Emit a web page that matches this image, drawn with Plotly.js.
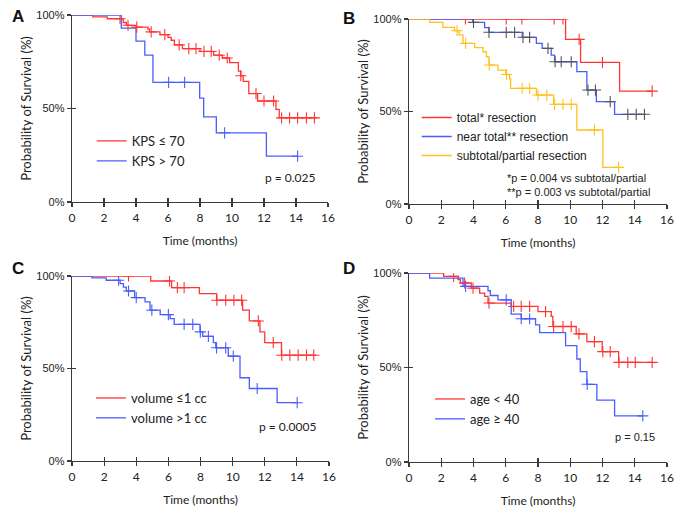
<!DOCTYPE html>
<html>
<head>
<meta charset="utf-8">
<script src="https://cdn.plot.ly/plotly-3.0.1.min.js"></script>
<style>html,body{margin:0;padding:0;background:#fff;}#chart{width:685px;height:516px;}</style>
</head>
<body>
<div id="chart"></div>
<script>
// ---------- DATA ----------
// Panel A: KPS
const aRedT = [0, 1.3, 2.2, 3.2, 3.4, 4.0, 4.75, 4.85, 5.5, 6.0, 6.2, 6.4, 6.9, 8.0, 8.85, 9.4, 9.85, 10.4, 10.55, 10.7, 11.05, 11.6, 12.75, 12.95];
const aRedS = [100, 99, 98, 96, 94.5, 93.5, 92.5, 91, 89.5, 88, 86.5, 84, 82, 80.5, 78.5, 77, 74.5, 70, 67.5, 64.5, 58, 54, 49.5, 45];
const aRedEnd = 15.3;
const aRedCens = [3.0, 3.5, 4.05, 4.95, 5.8, 6.7, 7.3, 7.75, 8.25, 8.7, 9.2, 9.7, 10.55, 11.5, 12.0, 12.6, 13.1, 13.6, 14.1, 14.65, 15.15];
const aBlueT = [0, 3.08, 4.0, 4.55, 5.06, 7.98, 8.23, 9.02, 12.15];
const aBlueS = [100, 93, 86, 78.5, 64, 55.5, 45.5, 37, 24.5];
const aBlueEnd = 14.1;
const aBlueCens = [6.04, 7.04, 9.54, 14.1];

// Panel B: resection
const bRedT = [0, 9.71, 10.64, 13.06];
const bRedS = [100, 89, 76.5, 61];
const bRedEnd = 15.1;
const bRedCens = [3.5, 6.03, 7.0, 9.0, 9.55, 10.55, 12.0, 15.08];
const bBlueT = [0, 3.95, 4.69, 4.96, 7.02, 7.9, 8.26, 8.82, 9.03, 10.41, 11.03, 11.62, 12.75];
const bBlueS = [100, 98.2, 95.3, 92.8, 90.1, 86.8, 84.1, 80.5, 76.9, 71.5, 61.6, 55.3, 48.5];
const bBlueEnd = 14.67;
const bBlueCens = [4.0, 4.96, 6.03, 6.55, 7.07, 7.48, 8.62, 9.06, 9.44, 10.06, 11.1, 11.56, 12.48, 13.57, 14.09, 14.6];
const bYelT = [0, 1.28, 2.1, 2.83, 3.1, 3.35, 4.07, 4.59, 4.8, 4.96, 5.52, 6.0, 6.24, 6.3, 7.9, 8.97, 10.41, 12.02];
const bYelS = [100, 98.2, 95.5, 93.7, 91.4, 86.8, 84.5, 82.3, 79.6, 75.1, 72.4, 70, 67.6, 62.5, 58.9, 53.9, 40, 19.8];
const bYelEnd = 13.0;
const bYelCens = [2.98, 3.51, 4.98, 6.05, 7.02, 7.48, 8.0, 8.55, 9.03, 9.55, 10.06, 11.5, 13.0];

// Panel C: volume
const cRedT = [0, 4.9, 6.2, 7.93, 9.0, 10.62, 11.04, 11.7, 12.0, 13.04];
const cRedS = [100, 97.3, 93.7, 90.5, 86.9, 81.5, 75.7, 69.8, 64, 57.2];
const cRedEnd = 15.2;
const cRedCens = [3.52, 6.07, 6.56, 6.98, 9.02, 9.57, 10.08, 10.56, 11.6, 12.53, 13.06, 13.56, 14.08, 14.6, 15.05];
const cBlueT = [0, 1.24, 2.13, 3.0, 3.2, 3.38, 3.9, 4.55, 4.86, 5.49, 6.11, 6.36, 7.97, 8.14, 8.8, 8.95, 9.73, 10.46, 11.04, 12.77];
const cBlueS = [100, 99, 97.7, 95.9, 94, 91.9, 88.3, 86, 81.5, 79.1, 77, 73.9, 69.8, 67.4, 64, 61.2, 56.7, 45, 39.2, 31.5];
const cBlueEnd = 14.02;
const cBlueCens = [2.9, 3.52, 4.0, 4.97, 6.0, 6.98, 7.52, 7.99, 8.49, 9.0, 9.57, 10.04, 11.53, 14.02];

// Panel D: age
const dRedT = [0, 2.15, 3.04, 3.18, 3.86, 4.38, 4.69, 4.9, 6.34, 8.0, 8.82, 8.92, 10.37, 11.03, 11.98, 13.0];
const dRedS = [100, 98.2, 96.5, 94.7, 92, 89.4, 87.6, 84.1, 82.3, 79.6, 77, 71.7, 67.8, 63.7, 58.4, 52.7];
const dRedEnd = 15.1;
const dRedCens = [2.77, 3.45, 3.97, 4.96, 6.49, 6.96, 7.48, 8.47, 8.97, 9.55, 10.06, 10.54, 11.5, 12.02, 12.48, 13.02, 13.57, 14.03, 15.08];
const dBlueT = [0, 1.28, 3.35, 4.9, 5.04, 5.52, 6.34, 6.96, 7.85, 8.1, 9.71, 10.41, 10.62, 11.03, 11.65, 12.75];
const dBlueS = [100, 97.3, 92.9, 90.6, 88.1, 85.8, 78.2, 75.8, 72.6, 68.5, 61.6, 54.5, 47.8, 41.1, 32.7, 24.4];
const dBlueEnd = 14.5;
const dBlueCens = [3.51, 6.03, 6.96, 7.48, 11.05, 14.5];

const xTicks = [0, 2, 4, 6, 8, 10, 12, 14, 16];
const yTicks = [0, 50, 100];
const yTickText = ['0%', '50%', '100%'];

// ---------- STYLE ----------
const RED = '#ff3535';
const BLUE = '#4a5cff';
const YEL = '#ffc020';
const AXC = '#3a3a3a';
const CAL = 'Lato, "Open Sans", sans-serif';
const ARI = '"Liberation Sans", Arial, sans-serif';
const W = 685, H = 516;
const px = x => x / W;
const py = y => (H - y) / H;

function stepVal(t, s, x) {
  let v = s[0];
  for (let i = 0; i < t.length; i++) { if (t[i] <= x) v = s[i]; }
  return v;
}
function curve(t, s, end, name, color, ax, legend) {
  return {
    x: t.concat([end]), y: s.concat([s[s.length - 1]]),
    type: 'scatter', mode: 'lines', line: {shape: 'hv', color: color, width: 1.3},
    name: name, xaxis: ax[0], yaxis: ax[1], legend: legend, hoverinfo: 'skip'
  };
}
function cens(t, s, c, color, ax) {
  return {
    x: c, y: c.map(v => stepVal(t, s, v)),
    type: 'scatter', mode: 'markers',
    marker: {symbol: 'cross-thin', size: 8, line: {color: color, width: 1.1}, color: color},
    showlegend: false, xaxis: ax[0], yaxis: ax[1], hoverinfo: 'skip'
  };
}

const A = ['x', 'y'], B = ['x2', 'y2'], C = ['x3', 'y3'], D = ['x4', 'y4'];
const data = [
  curve(aRedT, aRedS, aRedEnd, 'KPS ≤ 70', RED, A, 'legend'),
  curve(aBlueT, aBlueS, aBlueEnd, 'KPS > 70', BLUE, A, 'legend'),
  cens(aRedT, aRedS, aRedCens, RED, A),
  cens(aBlueT, aBlueS, aBlueCens, BLUE, A),

  curve(bRedT, bRedS, bRedEnd, 'total* resection', RED, B, 'legend2'),
  curve(bBlueT, bBlueS, bBlueEnd, 'near total** resection', BLUE, B, 'legend2'),
  curve(bYelT, bYelS, bYelEnd, 'subtotal/partial resection', YEL, B, 'legend2'),
  cens(bRedT, bRedS, bRedCens, RED, B),
  cens(bBlueT, bBlueS, bBlueCens, '#555555', B),
  cens(bYelT, bYelS, bYelCens, YEL, B),

  curve(cRedT, cRedS, cRedEnd, 'volume ≤1 cc', RED, C, 'legend3'),
  curve(cBlueT, cBlueS, cBlueEnd, 'volume >1 cc', BLUE, C, 'legend3'),
  cens(cRedT, cRedS, cRedCens, RED, C),
  cens(cBlueT, cBlueS, cBlueCens, BLUE, C),

  curve(dRedT, dRedS, dRedEnd, 'age < 40', RED, D, 'legend4'),
  curve(dBlueT, dBlueS, dBlueEnd, 'age ≥ 40', BLUE, D, 'legend4'),
  cens(dRedT, dRedS, dRedCens, RED, D),
  cens(dBlueT, dBlueS, dBlueCens, BLUE, D)
];
// empty traces so the inside-tick overlay axes (crossing ticks) are drawn
for (let k = 5; k <= 8; k++) {
  data.push({x: [], y: [], type: 'scatter', mode: 'lines', showlegend: false, xaxis: 'x' + k, yaxis: 'y' + k, hoverinfo: 'skip'});
}

function xax(domain, anchor) {
  return {
    domain: domain, anchor: anchor, range: [0, 16], tickvals: xTicks, ticktext: xTicks.map(String),
    showline: true, linecolor: AXC, linewidth: 1.3, ticks: 'outside', ticklen: 4, tickcolor: AXC, tickwidth: 1.2,
    showgrid: false, zeroline: false, tickfont: {family: CAL, size: 12, color: '#222'},
    title: {text: 'Time (months)', font: {family: CAL, size: 12, color: '#222'}, standoff: 13},
    fixedrange: true
  };
}
function yax(domain, anchor) {
  return {
    domain: domain, anchor: anchor, range: [0, 100], tickvals: yTicks, ticktext: yTickText,
    showline: true, linecolor: AXC, linewidth: 1.3, ticks: 'outside', ticklen: 4, tickcolor: AXC, tickwidth: 1.2,
    showgrid: false, zeroline: false, tickfont: {family: ARI, size: 11, color: '#222'},
    title: {text: 'Probability of Survival (%)', font: {family: CAL, size: 13, color: '#222'}, standoff: 1},
    fixedrange: true
  };
}
function xin(base, anchor) {
  return {overlaying: base, anchor: anchor, range: [0, 16], tickvals: xTicks, showticklabels: false,
    showline: false, ticks: 'inside', ticklen: 4, tickcolor: AXC, tickwidth: 1.2, showgrid: false, zeroline: false, fixedrange: true};
}
function yin(base, anchor) {
  return {overlaying: base, anchor: anchor, side: 'left', range: [0, 100], tickvals: yTicks, showticklabels: false,
    showline: false, ticks: 'inside', ticklen: 4, tickcolor: AXC, tickwidth: 1.2, showgrid: false, zeroline: false, fixedrange: true};
}

const legBase = {bgcolor: 'rgba(0,0,0,0)', borderwidth: 0, xanchor: 'left', yanchor: 'top', tracegroupgap: 0};
function ann(text, x, y, xa, fam, size, bold) {
  return {text: text, x: px(x), y: py(y), xref: 'paper', yref: 'paper', xanchor: xa, yanchor: 'middle',
    showarrow: false, font: {family: fam, size: size, color: bold ? '#111' : '#222'}};
}
const layout = {
  width: W, height: H, margin: {l: 0, r: 0, t: 0, b: 0}, paper_bgcolor: '#fff', plot_bgcolor: 'rgba(0,0,0,0)',
  font: {family: CAL, color: '#222'},
  xaxis: xax([px(72), px(328)], 'y'),
  yaxis: yax([py(202), py(15)], 'x'),
  xaxis2: xax([px(409), px(667)], 'y2'),
  yaxis2: yax([py(204), py(19)], 'x2'),
  xaxis3: xax([px(72), px(329)], 'y3'),
  yaxis3: yax([py(461), py(276)], 'x3'),
  xaxis4: xax([px(409), px(667)], 'y4'),
  yaxis4: yax([py(462), py(273)], 'x4'),
  xaxis5: xin('x', 'y5'), yaxis5: yin('y', 'x5'),
  xaxis6: xin('x2', 'y6'), yaxis6: yin('y2', 'x6'),
  xaxis7: xin('x3', 'y7'), yaxis7: yin('y3', 'x7'),
  xaxis8: xin('x4', 'y8'), yaxis8: yin('y4', 'x8'),
  legend: Object.assign({x: px(91.7), y: py(126), font: {family: CAL, size: 13, color: '#222'}}, legBase),
  legend2: Object.assign({x: px(416.7), y: py(103), font: {family: ARI, size: 12, color: '#222'}}, legBase),
  legend3: Object.assign({x: px(91), y: py(383), font: {family: CAL, size: 13, color: '#222'}}, legBase),
  legend4: Object.assign({x: px(430), y: py(384), font: {family: CAL, size: 13, color: '#222'}}, legBase),
  annotations: [
    ann('<b>A</b>', 18, 16, 'center', ARI, 17, true),
    ann('<b>B</b>', 349, 19, 'center', ARI, 17, true),
    ann('<b>C</b>', 18, 268, 'center', ARI, 17, true),
    ann('<b>D</b>', 349, 268, 'center', ARI, 17, true),
    ann('p = 0.025', 318, 178, 'right', CAL, 12),
    ann('*p = 0.004 vs subtotal/partial', 505, 178, 'left', ARI, 11),
    ann('**p = 0.003 vs subtotal/partial', 505, 192, 'left', ARI, 11),
    ann('p = 0.0005', 319, 426, 'right', CAL, 12),
    ann('p = 0.15', 657, 437, 'right', ARI, 11)
  ]
};

Plotly.newPlot('chart', data, layout, {displayModeBar: false, staticPlot: true});
</script>
</body>
</html>
